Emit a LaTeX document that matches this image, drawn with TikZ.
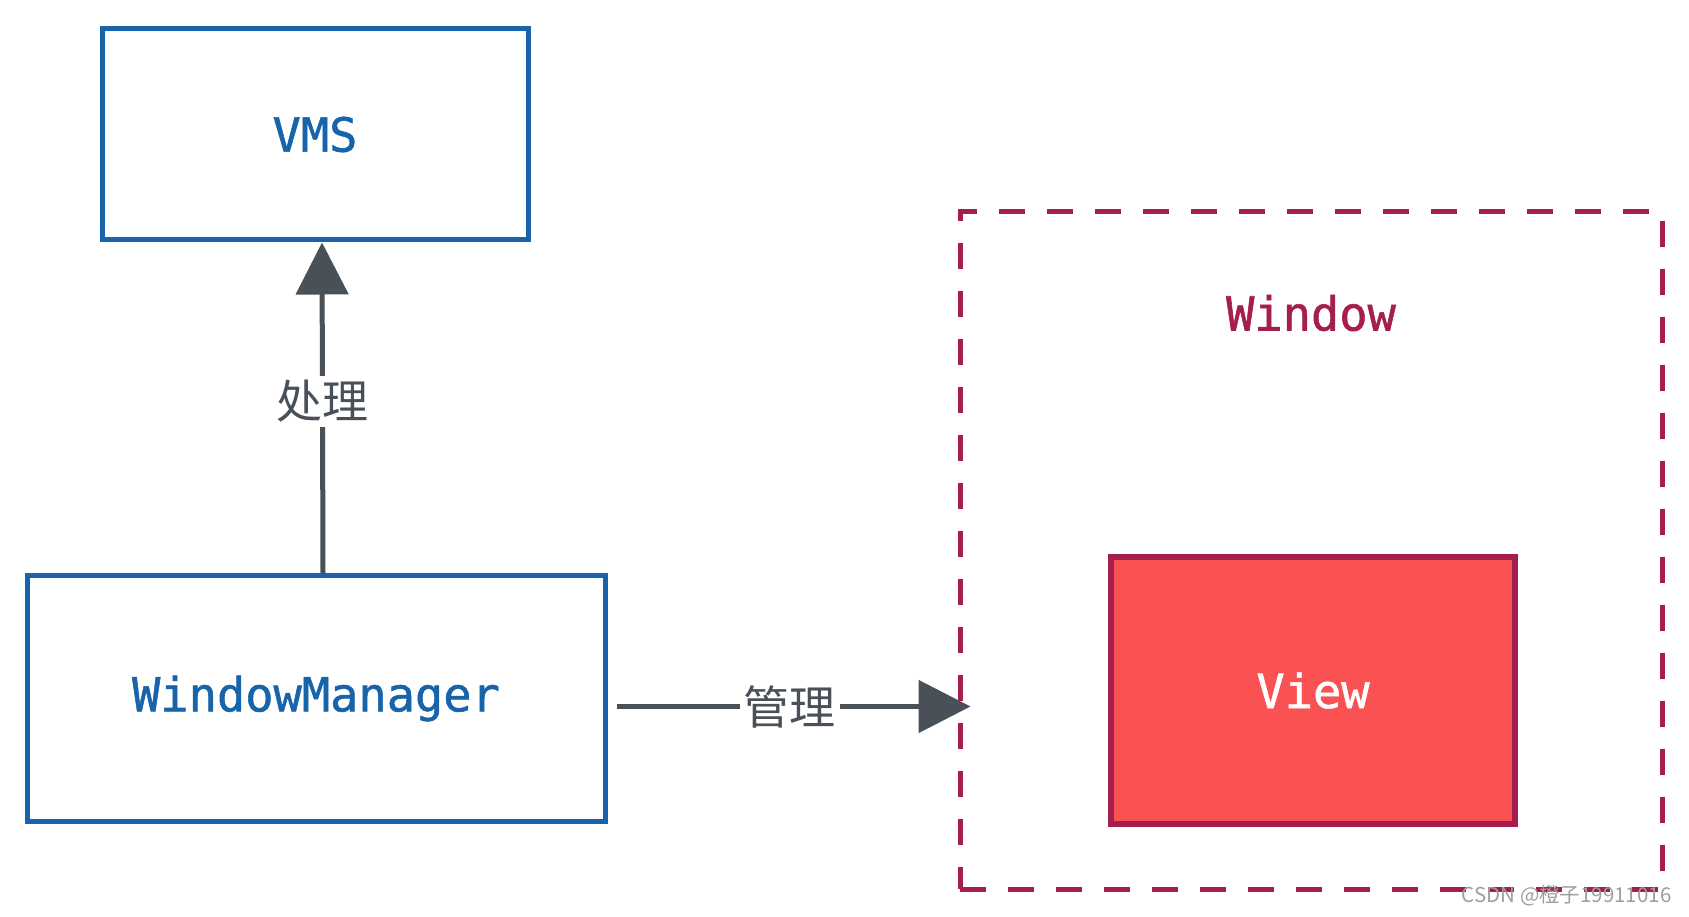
\documentclass[tikz,border=0pt]{standalone}
\usepackage{fontspec}
\newfontfamily\codefont[FakeBold=1.2]{DejaVu Sans Mono}
\newfontfamily\cjk{Noto Sans CJK SC}
\usetikzlibrary{arrows.meta,calc}
\definecolor{exblue}{HTML}{1864AB}
\definecolor{exwine}{HTML}{A61E4D}
\definecolor{exred}{HTML}{FA5252}
\definecolor{exgray}{HTML}{495057}
\tikzset{
  blockbox/.style={draw=exblue,line width=5pt,text=exblue,inner sep=0pt,
    font=\codefont\fontsize{47}{56}\selectfont},
  dashbox/.style={draw=exwine,line width=5pt,dash pattern=on 26pt off 22pt,inner sep=0pt},
  viewbox/.style={draw=exwine,fill=exred,line width=6pt,text=white,inner sep=0pt,
    font=\codefont\fontsize{47}{56}\selectfont},
  arr/.style={draw=exgray,line width=5pt,-{Triangle[length=52pt,width=52pt]}},
  lbl/.style={fill=white,text=exgray,inner sep=4pt,font=\cjk\fontsize{46}{50}\selectfont}
}
\begin{document}
\begin{tikzpicture}[x=1pt,y=1pt]
  \useasboundingbox (0,0) rectangle (1689,916);
  % boxes
  \node[blockbox,minimum width=426,minimum height=211] (vms) at (315,781.5) {VMS};
  \node[blockbox,minimum width=578,minimum height=245] (wm) at (316,217.5) {WindowManager};
  \node[dashbox,minimum width=702,minimum height=677] (win) at (1311,365.5) {};
  \node[text=exwine,font=\codefont\fontsize{47}{56}\selectfont] (winlbl) at (1311,603) {Window};
  \node[viewbox,minimum width=404,minimum height=267] (view) at (1313,225.5) {View};
  % connectors
  \draw[arr] ([xshift=7pt]wm.north) -- ([xshift=7pt]vms.south)
    node[lbl,pos=0.52] (chuli) {处理};
  \coordinate (tip) at ($(win.west)+(13,-156)$);
  \draw[arr] ([xshift=9pt]wm.east |- tip) -- (tip)
    node[lbl,pos=0.49] (guanli) {管理};
  % watermark
  \node[text=black!38,font=\cjk\fontsize{20.5}{24}\selectfont,anchor=east] (mark) at (1675,20) {CSDN @橙子19911016};
\end{tikzpicture}
\end{document}
